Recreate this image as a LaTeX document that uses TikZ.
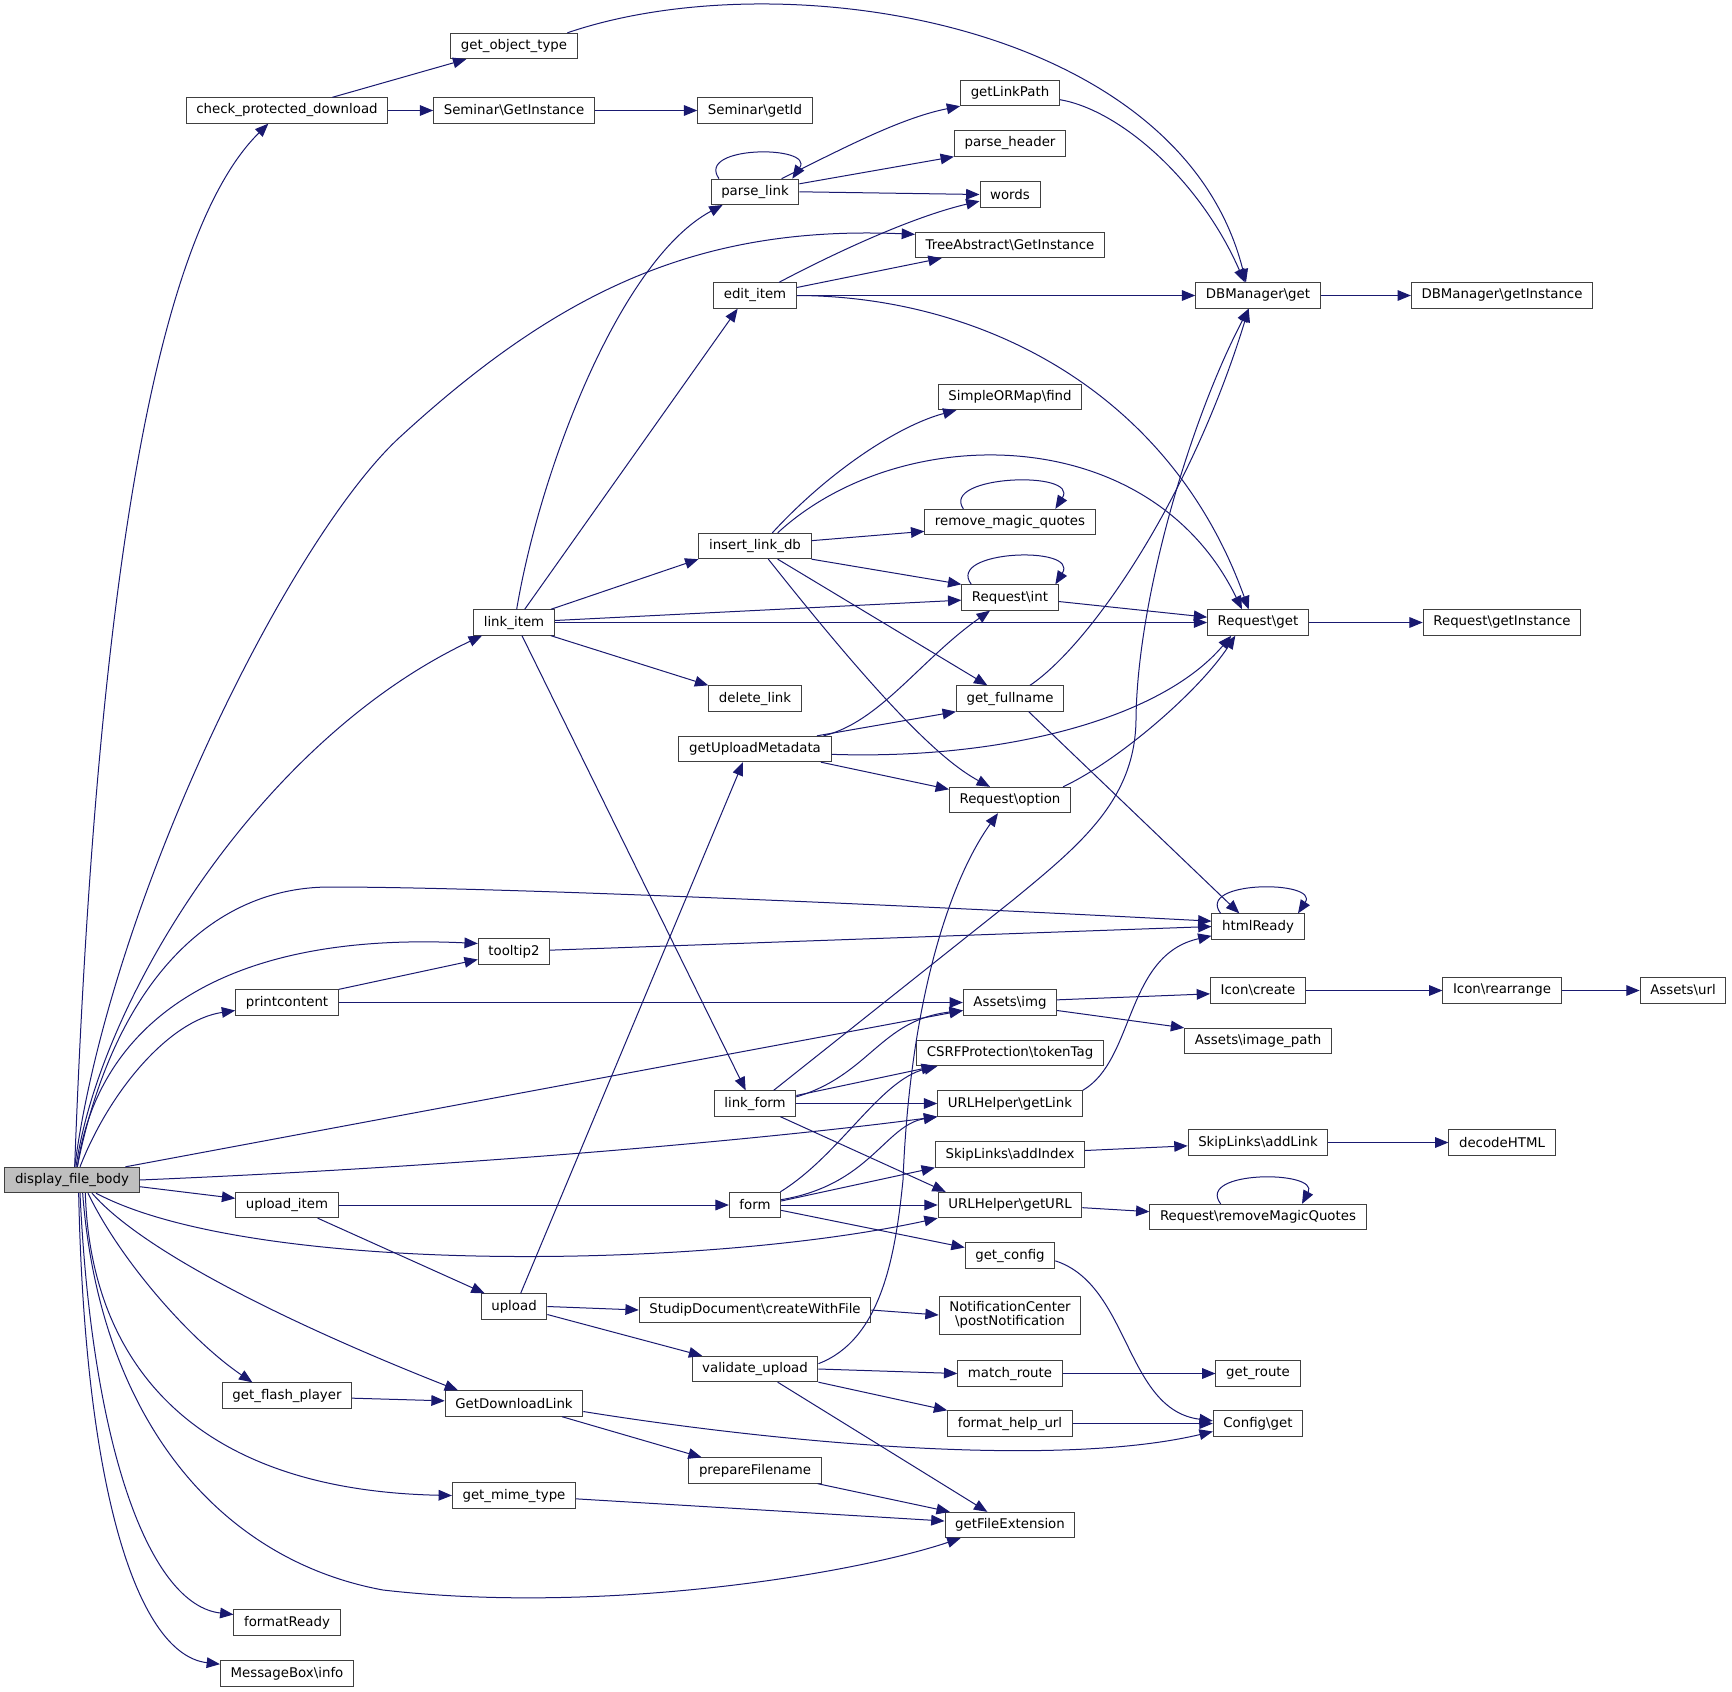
\documentclass[tikz,border=0pt]{standalone}
\usepackage{fontspec}
\setmainfont{DejaVu Sans}
\usetikzlibrary{arrows.meta}

\definecolor{edgeblue}{RGB}{25,25,112}
\def\bs{\textbackslash}
% rank columns (px)
\def\xroot{72}
\def\xone{287}
\def\xtwo{514}
\def\xthree{755}
\def\xfour{1010}
\def\xfive{1258}
\def\xsix{1502}
\def\xseven{1683}

\tikzset{
  func/.style={draw=black!75, fill=white, line width=0.75pt, inner xsep=7.6pt,
    inner ysep=0pt, minimum height=19pt, font=\fontsize{10}{12}\selectfont},
  funcroot/.style={func, fill=black!25},
  calledge/.style={draw=edgeblue, line width=0.75pt, -{Triangle[length=10pt,width=8pt]}},
}

\begin{document}
\begin{tikzpicture}[x=0.75pt,y=-0.75pt]
        \path[use as bounding box, fill=white] (0,0) rectangle (1732,1692);
        % root
        \node[funcroot] (dfb) at (\xroot,1180) {display\_file\_body};
        % rank 1
        \node[func] (cpd) at (\xone,110.5) {check\_protected\_download};
        \node[func] (pc) at (\xone,1002.5) {printcontent};
        \node[func] (ui) at (\xone,1205) {upload\_item};
        \node[func] (gfp) at (\xone,1395.5) {get\_flash\_player};
        \node[func] (fr) at (\xone,1622.5) {formatReady};
        \node[func] (mbi) at (\xone,1673.5) {MessageBox\bs info};
        % rank 2
        \node[func] (got) at (\xtwo,46) {get\_object\_type};
        \node[func] (sgi) at (\xtwo,110.5) {Seminar\bs GetInstance};
        \node[func] (li) at (\xtwo,622.5) {link\_item};
        \node[func] (tt) at (\xtwo,951.5) {tooltip2};
        \node[func] (up) at (\xtwo,1306.5) {upload};
        \node[func] (gdl) at (\xtwo,1403.5) {GetDownloadLink};
        \node[func] (gmt) at (\xtwo,1495.5) {get\_mime\_type};
        % rank 3
        \node[func] (sid) at (\xthree,110.5) {Seminar\bs getId};
        \node[func] (pl) at (\xthree,191.8) {parse\_link};
        \node[func] (ei) at (\xthree,295.5) {edit\_item};
        \node[func] (ild) at (\xthree,546) {insert\_link\_db};
        \node[func] (dl) at (\xthree,698.5) {delete\_link};
        \node[func] (gum) at (\xthree,749) {getUploadMetadata};
        \node[func] (lf) at (\xthree,1103.5) {link\_form};
        \node[func] (fm) at (\xthree,1205) {form};
        \node[func] (sdc) at (\xthree,1310) {StudipDocument\bs createWithFile};
        \node[func] (vu) at (\xthree,1369) {validate\_upload};
        \node[func] (pf) at (\xthree,1470.5) {prepareFilename};
        % rank 4
        \node[func] (glp) at (\xfour,93) {getLinkPath};
        \node[func] (ph) at (\xfour,143.5) {parse\_header};
        \node[func] (wd) at (\xfour,194.5) {words};
        \node[func] (tagi) at (\xfour,245) {TreeAbstract\bs GetInstance};
        \node[func] (sof) at (\xfour,397) {SimpleORMap\bs find};
        \node[func] (rmq) at (\xfour,522) {remove\_magic\_quotes};
        \node[func] (rint) at (\xfour,597.5) {Request\bs int};
        \node[func] (gfn) at (\xfour,698.5) {get\_fullname};
        \node[func] (ropt) at (\xfour,800) {Request\bs option};
        \node[func] (aimg) at (\xfour,1002.5) {Assets\bs img};
        \node[func] (csrf) at (\xfour,1053) {CSRFProtection\bs tokenTag};
        \node[func] (ugl) at (\xfour,1103.5) {URLHelper\bs getLink};
        \node[func] (sai) at (\xfour,1154.5) {SkipLinks\bs addIndex};
        \node[func] (ugu) at (\xfour,1205) {URLHelper\bs getURL};
        \node[func] (gcf) at (\xfour,1255.5) {get\_config};
        \node[func, align=center, minimum height=28.5pt, font=\fontsize{10}{10.5}\selectfont]
            (ncp) at (\xfour,1315) {NotificationCenter\\\bs postNotification};
        \node[func] (mr) at (\xfour,1373.5) {match\_route};
        \node[func] (fhu) at (\xfour,1423.5) {format\_help\_url};
        \node[func] (gfe) at (\xfour,1525) {getFileExtension};
        % rank 5
        \node[func] (dbg) at (\xfive,295.5) {DBManager\bs get};
        \node[func] (rget) at (\xfive,622.5) {Request\bs get};
        \node[func] (hr) at (\xfive,926.5) {htmlReady};
        \node[func] (icr) at (\xfive,990.5) {Icon\bs create};
        \node[func] (aip) at (\xfive,1041) {Assets\bs image\_path};
        \node[func] (sal) at (\xfive,1142.5) {SkipLinks\bs addLink};
        \node[func] (rrmq) at (\xfive,1217) {Request\bs removeMagicQuotes};
        \node[func] (gr) at (\xfive,1373.5) {get\_route};
        \node[func] (cget) at (\xfive,1423.5) {Config\bs get};
        % rank 6 and 7
        \node[func] (dbgi) at (\xsix,295.5) {DBManager\bs getInstance};
        \node[func] (rgi) at (\xsix,622.5) {Request\bs getInstance};
        \node[func] (irr) at (\xsix,990.5) {Icon\bs rearrange};
        \node[func] (dh) at (\xsix,1142.5) {decodeHTML};
        \node[func] (aurl) at (\xseven,990.5) {Assets\bs url};

        % calls from display_file_body
        \draw[calledge] ([xshift=2pt]dfb.north) .. controls (95,620) and (150,240) .. ([xshift=-14pt]cpd.south);
        \draw[calledge] ([xshift=2pt]dfb.north) .. controls (110,900) and (290,538) .. (400,437)
            .. controls (560,290) and (700,225) .. ([yshift=8pt]tagi.west);
        \draw[calledge] ([xshift=3pt]dfb.north) .. controls (100,1000) and (260,740) .. ([xshift=-24pt]li.south);
        \draw[calledge] ([xshift=4pt]dfb.north) .. controls (110,1000) and (200,887) .. (330,887)
            .. controls (500,887) and (900,905) .. ([yshift=4pt]hr.west);
        \draw[calledge] ([xshift=4pt]dfb.north) .. controls (95,1040) and (200,930) .. ([yshift=6pt]tt.west);
        \draw[calledge] ([xshift=6pt]dfb.north) .. controls (110,1090) and (170,1020) .. ([yshift=-6pt]pc.west);
        \draw[calledge] ([xshift=40pt]dfb.north) -- ([yshift=-6pt]aimg.west);
        \draw[calledge] (dfb.east) .. controls (500,1165) and (800,1135) .. (ugl.south west);
        \draw[calledge] ([yshift=-5pt]dfb.east) -- ([yshift=5pt]ui.west);
        \draw[calledge] ([xshift=18pt]dfb.south) .. controls (250,1275) and (700,1270) .. (ugu.south west);
        \draw[calledge] ([xshift=15pt]dfb.south) .. controls (150,1260) and (330,1340) .. ([xshift=10pt]gdl.north west);
        \draw[calledge] ([xshift=12pt]dfb.south) .. controls (120,1260) and (190,1340) .. ([xshift=-26pt]gfp.north);
        \draw[calledge] ([xshift=10pt]dfb.south) .. controls (90,1350) and (180,1490) .. (gmt.west);
        \draw[calledge] ([xshift=8pt]dfb.south) .. controls (100,1420) and (220,1560) .. (383,1590)
            .. controls (600,1615) and (850,1575) .. ([xshift=12pt]gfe.south west);
        \draw[calledge] ([xshift=6pt]dfb.south) .. controls (92,1450) and (150,1605) .. ([yshift=6pt]fr.west);
        \draw[calledge] ([xshift=5pt]dfb.south) .. controls (85,1500) and (140,1655) .. ([yshift=7pt]mbi.west);

        % check_protected_download
        \draw[calledge] ([xshift=34pt]cpd.north) -- ([xshift=12pt]got.south west);
        \draw[calledge] (cpd.east) -- (sgi.west);
        \draw[calledge] (sgi.east) -- (sid.west);
        \draw[calledge] ([xshift=40pt]got.north) .. controls (780,-40) and (1180,20) .. ([xshift=-9pt]dbg.north);

        % parse_link and edit_item
        \draw[calledge] ([xshift=-27pt]pl.north) .. controls (695,145) and (815,145) .. ([xshift=28pt]pl.north);
        \draw[calledge] ([xshift=20pt]pl.north) .. controls (840,150) and (900,118) .. (glp.south west);
        \draw[calledge] ([yshift=6pt]pl.east) -- (ph.south west);
        \draw[calledge] (pl.east) -- (wd.west);
        \draw[calledge] ([xshift=18pt]ei.north) .. controls (850,245) and (920,215) .. ([yshift=-5pt]wd.west);
        \draw[calledge] ([yshift=6pt]ei.east) -- ([xshift=20pt]tagi.south west);
        \draw[calledge] (ei.east) -- (dbg.west);
        \draw[calledge] (ei.east) .. controls (980,296) and (1170,390) .. ([xshift=-7pt]rget.north);
        \draw[calledge] ([yshift=-5pt]glp.east) .. controls (1120,110) and (1200,180) .. ([xshift=-10pt]dbg.north);
        \draw[calledge] (dbg.east) -- (dbgi.west);

        % link_item
        \draw[calledge] ([xshift=2pt]li.north) .. controls (540,470) and (620,260) .. ([xshift=9pt]pl.south west);
        \draw[calledge] ([xshift=8pt]li.north) -- ([xshift=-13pt]ei.south);
        \draw[calledge] ([xshift=-3pt]li.north east) -- (ild.south west);
        \draw[calledge] ([yshift=1.5pt]li.east) -- ([yshift=-2pt]rint.west);
        \draw[calledge] (li.east) -- (rget.west);
        \draw[calledge] ([xshift=-3pt]li.south east) -- (dl.north west);
        \draw[calledge] ([xshift=6pt]li.south) -- ([xshift=-7pt]lf.north);

        % insert_link_db
        \draw[calledge] ([xshift=13pt]ild.north) .. controls (830,470) and (900,425) .. ([xshift=14pt]sof.south west);
        \draw[calledge] ([xshift=17pt]ild.north) .. controls (900,420) and (1150,420) .. ([xshift=-12pt]rget.north);
        \draw[calledge] ([yshift=4pt]ild.east) -- ([yshift=-7pt]rmq.west);
        \draw[calledge] ([xshift=-35pt]rmq.north) .. controls (940,475) and (1080,470) .. ([xshift=34pt]rmq.north);
        \draw[calledge] (ild.south east) -- (rint.north west);
        \draw[calledge] ([xshift=17pt]ild.south) -- ([xshift=-17pt]gfn.north);
        \draw[calledge] ([xshift=10pt]ild.south) .. controls (880,700) and (940,760) .. ([xshift=-15pt]ropt.north);
        \draw[calledge] ([xshift=-29pt]rint.north) .. controls (945,550) and (1080,545) .. ([xshift=34pt]rint.north);
        \draw[calledge] ([yshift=-3pt]rint.east) -- ([yshift=4pt]rget.west);
        \draw[calledge] (rget.east) -- (rgi.west);

        % getUploadMetadata and get_fullname
        \draw[calledge] ([xshift=-6pt]gum.north east) .. controls (880,722) and (920,660) .. ([xshift=-15pt]rint.south);
        \draw[calledge] ([xshift=-11pt]gum.north east) -- (gfn.south west);
        \draw[calledge] ([yshift=-4pt]gum.east) .. controls (1000,760) and (1160,720) .. ([xshift=-20pt]rget.south);
        \draw[calledge] ([xshift=-8pt]gum.south east) -- ([yshift=8pt]ropt.west);
        \draw[calledge] ([xshift=15pt]gfn.north) .. controls (1090,645) and (1190,500) .. ([xshift=-7pt]dbg.south);
        \draw[calledge] ([xshift=14pt]gfn.south) -- ([xshift=-14pt]hr.north);
        \draw[calledge] ([xshift=-6pt]ropt.north east) .. controls (1120,760) and (1200,690) .. ([xshift=-17pt]rget.south);

        % htmlReady, tooltip2, printcontent
        \draw[calledge] ([xshift=-28pt]hr.north) .. controls (1195,880) and (1320,880) .. ([xshift=30pt]hr.north);
        \draw[calledge] ([yshift=1pt]tt.east) -- (hr.west);
        \draw[calledge] (pc.north east) -- ([yshift=-6pt]tt.west);
        \draw[calledge] (pc.east) -- (aimg.west);
        \draw[calledge] ([yshift=2pt]aimg.east) -- ([yshift=-2.5pt]icr.west);
        \draw[calledge] ([yshift=-6pt]aimg.east) -- (aip.north west);
        \draw[calledge] (icr.east) -- (irr.west);
        \draw[calledge] (irr.east) -- (aurl.west);

        % link_form and form
        \draw[calledge] ([xshift=14pt]lf.north) -- (1013,900) .. controls (1080,845) and (1135,800) .. (1136,720)
            .. controls (1137,600) and (1190,420) .. ([xshift=-7pt]dbg.south);
        \draw[calledge] ([yshift=5pt]lf.east) .. controls (870,1075) and (880,1020) .. ([yshift=-6pt]aimg.west);
        \draw[calledge] ([yshift=6pt]lf.east) -- ([xshift=14pt]csrf.south west);
        \draw[calledge] (lf.east) -- (ugl.west);
        \draw[calledge] ([xshift=19pt]lf.south) -- ([xshift=6pt]ugu.north west);
        \draw[calledge] ([xshift=19pt]fm.north) .. controls (840,1155) and (880,1080) .. ([xshift=16pt]csrf.south west);
        \draw[calledge] ([yshift=4pt]fm.east) .. controls (870,1185) and (885,1125) .. (ugl.south west);
        \draw[calledge] ([yshift=3pt]fm.east) -- (sai.south west);
        \draw[calledge] (fm.east) -- (ugu.west);
        \draw[calledge] ([yshift=-4pt]fm.east) -- ([yshift=6pt]gcf.west);
        \draw[calledge] (ugl.north east) .. controls (1135,1060) and (1125,955) .. ([yshift=-7pt]hr.west);
        \draw[calledge] ([yshift=-2pt]ugu.east) -- ([yshift=4pt]rrmq.west);
        \draw[calledge] ([xshift=-28pt]rrmq.north) .. controls (1195,1170) and (1320,1170) .. ([xshift=33pt]rrmq.north);
        \draw[calledge] ([yshift=3pt]sai.east) -- ([yshift=-2.5pt]sal.west);
        \draw[calledge] (sal.east) -- (dh.west);
        \draw[calledge] ([yshift=-4pt]gcf.east) .. controls (1130,1285) and (1125,1410) .. ([yshift=2pt]cget.west);

        % upload_item and upload
        \draw[calledge] (ui.east) -- (fm.west);
        \draw[calledge] ([xshift=23pt]ui.south) -- ([xshift=3pt]up.north west);
        \draw[calledge] ([xshift=5pt]up.north) -- ([xshift=-9pt]gum.south);
        \draw[calledge] (up.east) -- (sdc.west);
        \draw[calledge] ([yshift=-6pt]up.east) -- ([xshift=8pt]vu.north west);
        \draw[calledge] (sdc.east) -- (ncp.west);
        \draw[calledge] ([yshift=4pt]vu.east) .. controls (880,1340) and (895,1260) .. (903,1180)
            .. controls (910,1000) and (950,880) .. ([xshift=-9pt]ropt.south);
        \draw[calledge] (vu.east) -- (mr.west);
        \draw[calledge] (vu.south east) -- (fhu.north west);
        \draw[calledge] ([xshift=17pt]vu.south) -- ([xshift=-17pt]gfe.north);
        \draw[calledge] (mr.east) -- (gr.west);
        \draw[calledge] (fhu.east) -- (cget.west);

        % download links and file extension
        \draw[calledge] ([yshift=-2pt]gfp.east) -- ([yshift=2pt]gdl.west);
        \draw[calledge] ([yshift=-6pt]gdl.east) .. controls (760,1440) and (1050,1470) .. ([yshift=-6pt]cget.west);
        \draw[calledge] ([xshift=-16pt]gdl.south east) -- ([xshift=10pt]pf.north west);
        \draw[calledge] ([yshift=-2.5pt]gmt.east) -- ([yshift=3pt]gfe.west);
        \draw[calledge] ([xshift=-3pt]pf.south east) -- ([xshift=4pt]gfe.north west);
    \end{tikzpicture}
\end{document}
